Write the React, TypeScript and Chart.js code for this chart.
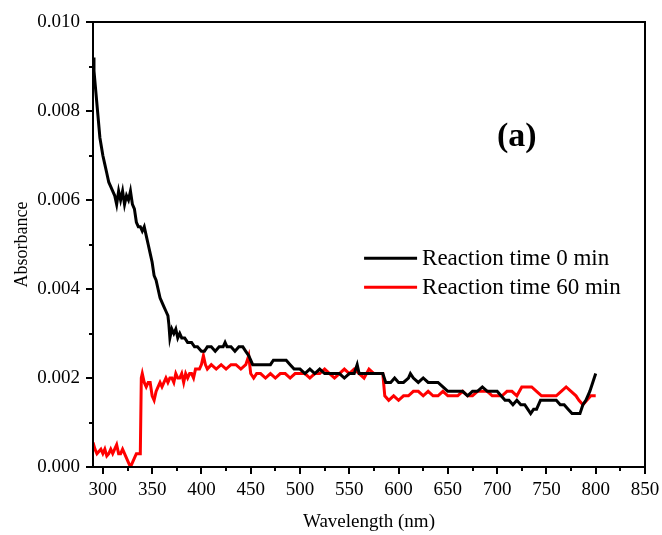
import React, { useEffect, useRef } from "react";
import { Chart, registerables } from "chart.js";

Chart.register(...registerables);

// Reaction time 0 min (black)
const wl0 = [
  290, 291, 293, 295, 297, 300, 302, 304, 306, 308, 310, 312, 314, 316, 318, 320, 322, 324, 326, 328,
  330, 332, 334, 336, 338, 340, 342, 344, 346, 348, 350, 352, 354, 356, 358, 360, 362, 364, 366, 367,
  368, 370, 372, 374, 376, 378, 380, 383, 386, 390, 393, 396, 400, 403, 406, 410, 414, 418, 422, 424,
  426, 430, 434, 438, 442, 445, 448, 450, 452, 456, 460, 465, 470, 473, 478, 482, 486, 490, 494, 500,
  505, 510, 515, 520, 525, 530, 535, 540, 545, 550, 555, 558, 560, 565, 570, 575, 580, 584, 587, 592,
  596, 600, 605, 610, 612, 615, 620, 625, 630, 635, 640, 645, 650, 655, 660, 665, 670, 675, 680, 685,
  690, 695, 700, 704, 708, 712, 716, 720, 724, 728, 731, 734, 737, 740, 744, 748, 752, 756, 760, 764,
  768, 772, 776, 780, 784, 787, 790, 794, 797, 800,
];
const abs0 = [
  0.0092, 0.0089, 0.0084, 0.0079, 0.0074, 0.0070, 0.0068, 0.0066, 0.0064, 0.0063, 0.0062, 0.0061, 0.0059, 0.0062, 0.0060, 0.0062, 0.0059, 0.0061, 0.0060, 0.0062,
  0.0059, 0.0058, 0.0055, 0.0054, 0.0054, 0.0053, 0.0054, 0.0052, 0.0050, 0.0048, 0.0046, 0.0043, 0.0042, 0.0040, 0.0038, 0.0037, 0.0036, 0.0035, 0.0034, 0.0032,
  0.0029, 0.0031, 0.0030, 0.0031, 0.0029, 0.0030, 0.0029, 0.0029, 0.0028, 0.0028, 0.0027, 0.0027, 0.0026, 0.0026, 0.0027, 0.0027, 0.0026, 0.0027, 0.0027, 0.0028,
  0.0027, 0.0027, 0.0026, 0.0027, 0.0027, 0.0026, 0.0025, 0.0024, 0.0023, 0.0023, 0.0023, 0.0023, 0.0023, 0.0024, 0.0024, 0.0024, 0.0024, 0.0023, 0.0022, 0.0022,
  0.0021, 0.0022, 0.0021, 0.0022, 0.0021, 0.0021, 0.0021, 0.0021, 0.0020, 0.0021, 0.0021, 0.0023, 0.0021, 0.0021, 0.0021, 0.0021, 0.0021, 0.0021, 0.0019, 0.0019,
  0.0020, 0.0019, 0.0019, 0.0020, 0.0021, 0.0020, 0.0019, 0.0020, 0.0019, 0.0019, 0.0019, 0.0018, 0.0017, 0.0017, 0.0017, 0.0017, 0.0016, 0.0017, 0.0017, 0.0018,
  0.0017, 0.0017, 0.0017, 0.0016, 0.0015, 0.0015, 0.0014, 0.0015, 0.0014, 0.0014, 0.0013, 0.0012, 0.0013, 0.0013, 0.0015, 0.0015, 0.0015, 0.0015, 0.0015, 0.0014,
  0.0014, 0.0013, 0.0012, 0.0012, 0.0012, 0.0014, 0.0015, 0.0017, 0.0019, 0.0021,
];

// Reaction time 60 min (red)
const wl60 = [
  290, 292, 294, 296, 298, 300, 302, 304, 306, 308, 310, 312, 314, 316, 318, 320, 322, 324, 326, 328,
  330, 332, 334, 336, 338, 339, 340, 342, 344, 346, 348, 350, 352, 354, 356, 358, 360, 362, 364, 366,
  368, 370, 372, 374, 376, 378, 380, 382, 384, 386, 388, 390, 392, 394, 396, 398, 400, 402, 404, 406,
  410, 415, 420, 425, 430, 435, 440, 445, 448, 450, 453, 456, 460, 465, 470, 475, 480, 485, 490, 495,
  500, 505, 510, 515, 520, 525, 530, 535, 540, 545, 550, 555, 560, 565, 570, 575, 580, 584, 586, 590,
  595, 600, 605, 610, 615, 620, 625, 630, 635, 640, 645, 650, 655, 660, 665, 670, 675, 680, 685, 690,
  695, 700, 705, 710, 715, 720, 725, 730, 735, 740, 745, 750, 755, 760, 765, 770, 775, 780, 783, 787,
  791, 795, 800,
];
const abs60 = [
  0.00055, 0.0004, 0.0003, 0.00035, 0.0004, 0.0003, 0.0004, 0.00025, 0.0003, 0.0004, 0.0003, 0.0004, 0.0005, 0.0003, 0.0003, 0.0004, 0.0003, 0.0002, 0.0001, 0.0,
  0.0001, 0.0002, 0.0003, 0.0003, 0.0003, 0.0020, 0.0021, 0.0019, 0.0018, 0.0019, 0.0019, 0.0016, 0.0015, 0.0017, 0.0018, 0.0019, 0.0018, 0.0019, 0.0020, 0.0019,
  0.0020, 0.0020, 0.0019, 0.0021, 0.0020, 0.0020, 0.0021, 0.0019, 0.0021, 0.0020, 0.0021, 0.0021, 0.0020, 0.0022, 0.0022, 0.0022, 0.0023, 0.0025, 0.0023, 0.0022,
  0.0023, 0.0022, 0.0023, 0.0022, 0.0023, 0.0023, 0.0022, 0.0023, 0.0025, 0.0021, 0.0020, 0.0021, 0.0021, 0.0020, 0.0021, 0.0020, 0.0021, 0.0021, 0.0020, 0.0021,
  0.0021, 0.0021, 0.0020, 0.0021, 0.0021, 0.0022, 0.0021, 0.0020, 0.0021, 0.0022, 0.0021, 0.0022, 0.0021, 0.0020, 0.0022, 0.0021, 0.0021, 0.0021, 0.0016, 0.0015,
  0.0016, 0.0015, 0.0016, 0.0016, 0.0017, 0.0017, 0.0016, 0.0017, 0.0016, 0.0016, 0.0017, 0.0016, 0.0016, 0.0016, 0.0017, 0.0016, 0.0016, 0.0017, 0.0017, 0.0017,
  0.0016, 0.0016, 0.0016, 0.0017, 0.0017, 0.0016, 0.0018, 0.0018, 0.0018, 0.0017, 0.0016, 0.0016, 0.0016, 0.0016, 0.0017, 0.0018, 0.0017, 0.0016, 0.0015, 0.0014,
  0.0015, 0.0016, 0.0016,
];

const seriesLabels = ["Reaction time 0 min", "Reaction time 60 min"];
const seriesColors = ["#000000", "#ff0000"];
const xTickValues = [300, 350, 400, 450, 500, 550, 600, 650, 700, 750, 800, 850];
const xMinorValues = [325, 375, 425, 475, 525, 575, 625, 675, 725, 775, 825];
const yTickValues = [0, 0.002, 0.004, 0.006, 0.008, 0.01];
const yMinorValues = [0.001, 0.003, 0.005, 0.007, 0.009];
const panelLabel = "(a)";
const xTitle = "Wavelength (nm)";
const yTitle = "Absorbance";

const FONT = "'Liberation Serif', 'Times New Roman', serif";

const decorPlugin = {
  id: "decor",
  afterDatasetsDraw(chart: any) {
    const ctx = chart.ctx;
    const { left, right, top, bottom } = chart.chartArea;
    const xs = chart.scales.x;
    const ys = chart.scales.y;
    ctx.save();
    ctx.strokeStyle = "#000";
    ctx.lineWidth = 2;
    ctx.strokeRect(left, top, right - left, bottom - top);
    ctx.beginPath();
    xTickValues.forEach((v) => {
      const p = Math.round(xs.getPixelForValue(v));
      ctx.moveTo(p, bottom);
      ctx.lineTo(p, bottom + 7);
    });
    xMinorValues.forEach((v) => {
      const p = Math.round(xs.getPixelForValue(v));
      ctx.moveTo(p, bottom);
      ctx.lineTo(p, bottom + 4);
    });
    yTickValues.forEach((v) => {
      const p = Math.round(ys.getPixelForValue(v));
      ctx.moveTo(left, p);
      ctx.lineTo(left - 7, p);
    });
    yMinorValues.forEach((v) => {
      const p = Math.round(ys.getPixelForValue(v));
      ctx.moveTo(left, p);
      ctx.lineTo(left - 4, p);
    });
    ctx.stroke();

    // legend
    const lx = xs.getPixelForValue(565);
    const ly0 = ys.getPixelForValue(0.00469);
    const rowH = 29;
    ctx.lineWidth = 3;
    ctx.font = `23px ${FONT}`;
    ctx.textBaseline = "middle";
    ctx.textAlign = "left";
    seriesLabels.forEach((lab, i) => {
      const y = ly0 + i * rowH;
      ctx.strokeStyle = seriesColors[i];
      ctx.beginPath();
      ctx.moveTo(lx, y);
      ctx.lineTo(lx + 53, y);
      ctx.stroke();
      ctx.fillStyle = "#000";
      ctx.fillText(lab, lx + 58, y + 1);
    });

    // panel label
    ctx.font = `bold 34px ${FONT}`;
    ctx.textAlign = "center";
    ctx.fillText(panelLabel, xs.getPixelForValue(720), ys.getPixelForValue(0.00742));
    ctx.restore();
  },
};

export default function App() {
  const ref = useRef<HTMLCanvasElement>(null);
  useEffect(() => {
    document.body.style.margin = "0";
    const canvas = ref.current!;
    const chart = new Chart(canvas, {
      type: "line",
      data: {
        datasets: [
          {
            label: seriesLabels[0],
            data: wl0.map((x, i) => ({ x, y: abs0[i] })),
            borderColor: seriesColors[0],
            borderWidth: 3,
            pointRadius: 0,
            tension: 0,
            fill: false,
          },
          {
            label: seriesLabels[1],
            data: wl60.map((x, i) => ({ x, y: abs60[i] })),
            borderColor: seriesColors[1],
            borderWidth: 3,
            pointRadius: 0,
            tension: 0,
            fill: false,
          },
        ],
      },
      options: {
        animation: false,
        responsive: false,
        devicePixelRatio: 1,
        layout: { padding: { top: 22, right: 17, left: 0, bottom: 0 } },
        plugins: { legend: { display: false }, tooltip: { enabled: false } },
        scales: {
          x: {
            type: "linear",
            min: 290,
            max: 850,
            grid: { display: false, drawTicks: false },
            border: { display: false },
            afterBuildTicks: (s: any) => {
              s.ticks = xTickValues.map((v) => ({ value: v }));
            },
            afterFit: (s: any) => {
              s.height = 68;
              s.paddingLeft = 0;
              s.paddingRight = 0;
            },
            ticks: {
              color: "#000",
              padding: 12,
              maxRotation: 0,
              font: { family: FONT, size: 19 },
              callback: (v: any) => String(v),
            },
            title: {
              display: true,
              text: xTitle,
              color: "#000",
              font: { family: FONT, size: 19 },
              padding: { top: 0, bottom: 2 },
            },
          },
          y: {
            type: "linear",
            min: 0,
            max: 0.01,
            grid: { display: false, drawTicks: false },
            border: { display: false },
            afterBuildTicks: (s: any) => {
              s.ticks = yTickValues.map((v) => ({ value: v }));
            },
            afterFit: (s: any) => {
              s.width = 93;
              s.paddingTop = 0;
              s.paddingBottom = 0;
            },
            ticks: {
              color: "#000",
              padding: 13,
              font: { family: FONT, size: 19 },
              callback: (v: any) => Number(v).toFixed(3),
            },
            title: {
              display: true,
              text: yTitle,
              color: "#000",
              font: { family: FONT, size: 18 },
              padding: { top: 11, bottom: 0 },
            },
          },
        },
      },
      plugins: [decorPlugin],
    });
    return () => chart.destroy();
  }, []);
  return (
    <div style={{ position: "absolute", left: 0, top: 0, width: 662, height: 535, background: "#fff" }}>
      <canvas ref={ref} width={662} height={535} />
    </div>
  );
}
